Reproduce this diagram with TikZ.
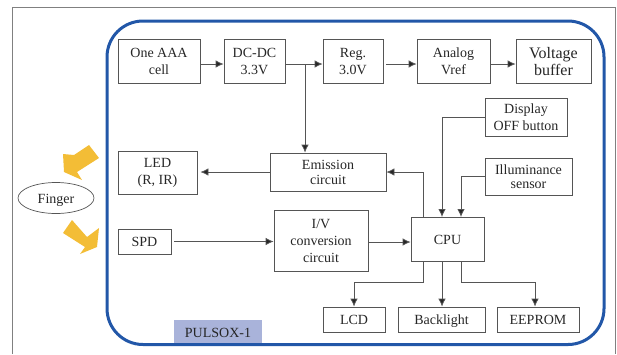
\documentclass[tikz,border=0pt]{standalone}
\usepackage{fontspec}
\setmainfont{Liberation Serif}
\usepackage{tikz}
\usetikzlibrary{arrows.meta, shapes.geometric}

\definecolor{panelblue}{HTML}{2257A8}
\definecolor{tagblue}{HTML}{A9B3DA}
\definecolor{fingeryellow}{HTML}{F3BD36}
\definecolor{linegray}{HTML}{555555}

\tikzset{
    blockbox/.style={draw=linegray, line width=0.8pt, inner sep=0pt, align=center, text=black!85,
        font=\fontsize{14}{17}\selectfont},
    oneline/.style={text height=11.5pt, text depth=1pt},
    link/.style={draw=linegray, line width=0.8pt, ->, >={Latex[length=8pt,width=7.5pt,fill=black!85]}},
    fingerarrow/.style={fill=fingeryellow, draw=none}
}

\begin{document}
\begin{tikzpicture}[x=1pt, y=-1pt]
    \useasboundingbox (0, 0) rectangle (617, 354);

    % outer frame
    \draw[gray, line width=0.7pt] (12, 354) -- (12, 7) -- (615.5, 7) -- (615.5, 354);

    % device panel with tag
    \node[fill=tagblue, inner sep=0pt, minimum width=88pt, minimum height=24pt, text=black!85, oneline,
        font=\fontsize{14}{17}\selectfont] (tag) at (218, 332) {PULSOX-1};
    \draw[panelblue, line width=3pt, rounded corners=36pt] (107, 21) rectangle (604, 344.5);

    % power chain
    \node[blockbox, minimum width=82pt, minimum height=44pt] (cell) at (159, 61.5) {One AAA\\cell};
    \node[blockbox, minimum width=61pt, minimum height=44pt] (dcdc) at (254.5, 61.5) {DC-DC\\3.3V};
    \node[blockbox, minimum width=60pt, minimum height=44pt] (reg) at (353, 61.5) {Reg.\\3.0V};
    \node[blockbox, minimum width=73pt, minimum height=44pt] (vref) at (453.5, 61.5) {Analog\\Vref};
    \node[blockbox, minimum width=75pt, minimum height=44pt, font=\fontsize{16}{17}\selectfont] (buffer) at (553.5, 61.5) {Voltage\\buffer};

    % inputs to the CPU
    \node[blockbox, minimum width=82pt, minimum height=38pt] (display) at (526, 117) {Display\\OFF button};
    \node[blockbox, minimum width=87pt, minimum height=37pt, font=\fontsize{14}{14}\selectfont] (sensor) at (528.5, 176.5) {Illuminance\\sensor};

    % measuring blocks
    \node[blockbox, minimum width=79pt, minimum height=43pt] (led) at (157.5, 172.5) {LED\\(R, IR)};
    \node[blockbox, minimum width=116pt, minimum height=38pt, font=\fontsize{14}{15}\selectfont] (emission) at (328, 172) {Emission\\circuit};
    \node[blockbox, oneline, minimum width=53pt, minimum height=25pt] (spd) at (144.5, 241.5) {SPD};
    \node[blockbox, minimum width=94pt, minimum height=61pt] (conv) at (321, 240.5) {I/V\\conversion\\circuit};
    \node[blockbox, oneline, minimum width=73pt, minimum height=44pt] (cpu) at (447.5, 239) {CPU};

    % outputs
    \node[blockbox, oneline, minimum width=62pt, minimum height=25pt] (lcd) at (354, 319.5) {LCD};
    \node[blockbox, oneline, minimum width=87pt, minimum height=25pt] (backlight) at (441.5, 319.5) {Backlight};
    \node[blockbox, oneline, minimum width=82pt, minimum height=25pt] (eeprom) at (538, 319.5) {EEPROM};

    % finger and its two arrows
    \node[draw=linegray, line width=0.7pt, ellipse, minimum width=76pt, minimum height=31pt, inner sep=0pt,
        text=black!85, oneline, font=\fontsize{14}{17}\selectfont] (finger) at (56, 198) {Finger};
    \fill[fingerarrow] (89, 145) -- (74, 155) -- (63, 154) -- (64, 172) -- (82, 180) -- (77, 172) -- (99, 158) -- cycle;
    \fill[fingerarrow] (72, 220) -- (63, 233) -- (85, 247) -- (80, 254) -- (97, 247) -- (99, 228) -- (87, 237) -- cycle;

    % helper points
    \coordinate (tap) at (305, 64);
    \coordinate (cpuA) at (423, 217);
    \coordinate (cpuB) at (442, 217);
    \coordinate (cpuC) at (461, 217);
    \coordinate (cpuD) at (423, 261);
    \coordinate (cpuE) at (442, 261);
    \coordinate (cpuF) at (461, 261);
    \coordinate (busL) at (423, 282);
    \coordinate (busR) at (461, 282);

    % power connectors
    \draw[link] ([yshift=-2.5pt]cell.east) -- ([yshift=-2.5pt]dcdc.west);
    \draw[link] ([yshift=-2.5pt]dcdc.east) -- ([yshift=-2.5pt]reg.west);
    \draw[link, shorten <=3pt] ([yshift=-2.5pt]reg.east) -- ([yshift=-2.5pt]vref.west);
    \draw[link] ([yshift=-2.5pt]vref.east) -- ([yshift=-2.5pt]buffer.west);
    \draw[link] (tap) -- (tap |- emission.north);

    % signal connectors
    \draw[link, shorten >=3pt] (emission.west) -- (led.east |- emission.west);
    \draw[link, shorten <=3pt] (spd.east) -- (spd.east -| conv.west);
    \draw[link] ([yshift=-1.5pt]conv.east) -- ([yshift=-1.5pt]conv.east -| cpu.west);
    \draw[link] (cpuA) |- (emission.east);
    \draw[link] (display.west) -| (cpuB);
    \draw[link] (sensor.west) -| (cpuC);

    % output connectors
    \draw[link] (cpuD) -- (busL) -| (lcd.north);
    \draw[link] (cpuE) -- (cpuE |- backlight.north);
    \draw[link] (cpuF) -- (busR) -| ([xshift=-3pt]eeprom.north);
\end{tikzpicture}
\end{document}
